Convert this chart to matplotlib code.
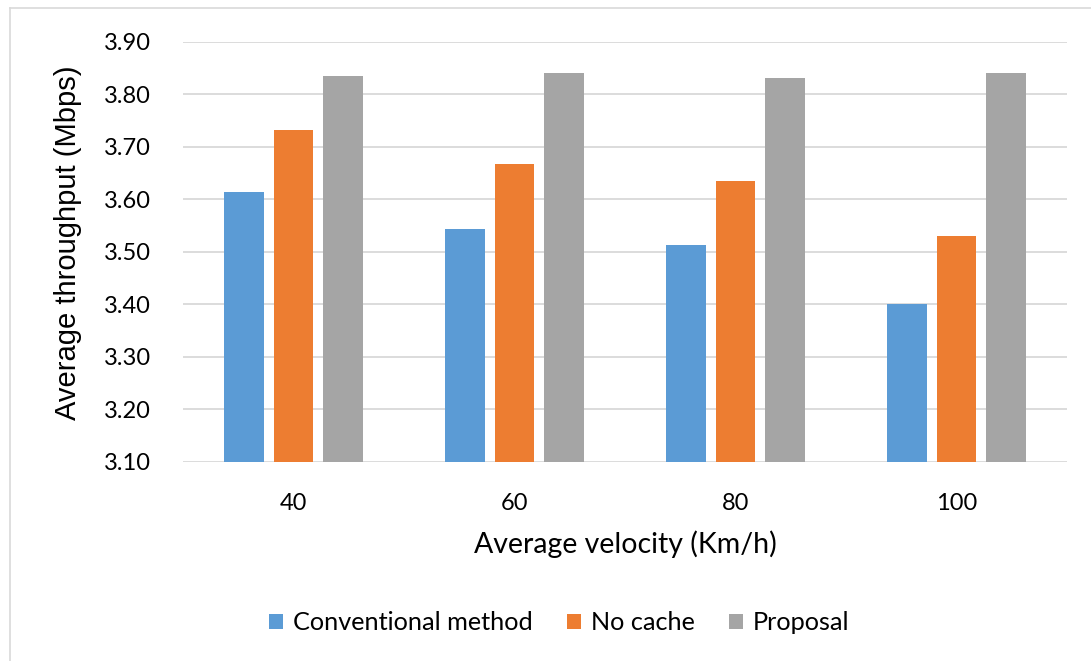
import numpy as np
import matplotlib
matplotlib.use('Agg')
import matplotlib.pyplot as plt
from matplotlib.lines import Line2D

velocity = ['40', '60', '80', '100']
conventional = [3.615, 3.544, 3.514, 3.401]
no_cache = [3.733, 3.667, 3.636, 3.531]
proposal = [3.836, 3.841, 3.831, 3.841]
series_names = ['Conventional method', 'No cache', 'Proposal']
colors = ['#5b9bd5', '#ed7d31', '#a5a5a5']

plt.rcParams['font.family'] = ['Lato', 'DejaVu Sans']

fig = plt.figure(figsize=(10.91, 6.61), dpi=100)
ax = fig.add_axes([183/1091, 1-462/661, (1067-183)/1091, (462-42)/661])

x = np.arange(len(velocity))
w = 0.18
off = 0.224
for i, vals in enumerate([conventional, no_cache, proposal]):
    ax.bar(x + (i-1)*off, np.array(vals) - 3.10, width=w, bottom=3.10,
           color=colors[i], label=series_names[i], zorder=3)

ax.set_xlim(-0.5, len(velocity)-0.5)
ax.set_ylim(3.10, 3.90)
ax.set_yticks(np.arange(3.10, 3.901, 0.10))
ax.set_yticklabels(['%.2f' % v for v in np.arange(3.10, 3.901, 0.10)], fontsize=17)
ax.set_xticks(x)
ax.set_xticklabels(velocity, fontsize=17)
ax.tick_params(length=0)
ax.tick_params(axis='y', pad=23)
ax.tick_params(axis='x', pad=22)
ax.grid(axis='y', color='#d9d9d9', linewidth=1.3, zorder=0)
for s in ax.spines.values():
    s.set_visible(False)

ax.set_xlabel('Average velocity (Km/h)', fontsize=20.5, labelpad=12)
fig.text(68/1091, 1-243/661, 'Average throughput (Mbps)', rotation=90,
         ha='center', va='center', fontsize=21, family='Liberation Sans')

ax.legend(loc='center', bbox_to_anchor=(559/1091, 1-623/661), bbox_transform=fig.transFigure,
          ncol=3, frameon=False, fontsize=18.2, handlelength=0.55, handleheight=0.55,
          handletextpad=0.4, columnspacing=1.35)

# light outer frame (left and top edges visible)
fig.add_artist(Line2D([9.5/1091, 9.5/1091], [0, 1-8/661], transform=fig.transFigure,
                      color='#d9d9d9', linewidth=1.2))
fig.add_artist(Line2D([9.5/1091, 1], [1-8/661, 1-8/661], transform=fig.transFigure,
                      color='#d9d9d9', linewidth=1.2))

fig.savefig('out.png', dpi=100)
